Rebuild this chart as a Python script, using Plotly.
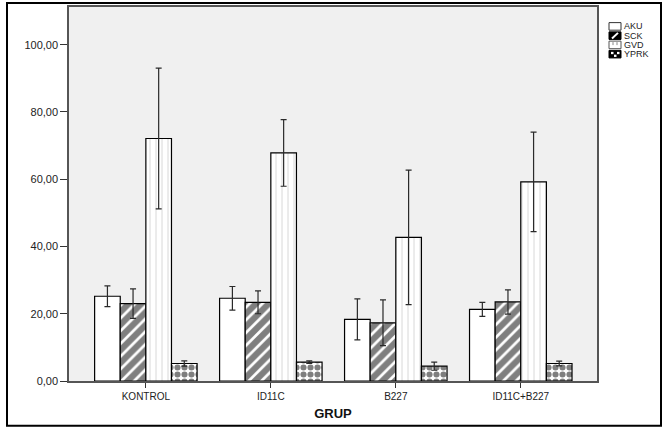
import plotly.graph_objects as go

groups = ["KONTROL", "ID11C", "B227", "ID11C+B227"]
series = ["AKU", "SCK", "GVD", "YPRK"]
means = {
    "AKU": [25.2, 24.6, 18.3, 21.3],
    "SCK": [23.0, 23.4, 17.3, 23.5],
    "GVD": [72.1, 67.8, 42.7, 59.2],
    "YPRK": [5.2, 5.6, 4.4, 5.2],
}
errs = {
    "AKU": [3.1, 3.5, 6.1, 2.1],
    "SCK": [4.4, 3.4, 6.8, 3.6],
    "GVD": [20.9, 9.9, 20.0, 14.8],
    "YPRK": [0.8, 0.4, 1.2, 0.7],
}
y_tickvals = [0, 20, 40, 60, 80, 100]
y_ticktext = ["0,00", "20,00", "40,00", "60,00", "80,00", "100,00"]

patterns = {
    "AKU": dict(shape=""),
    "SCK": dict(shape="/", fgcolor="black", bgcolor="white", size=9, solidity=0.7),
    "GVD": dict(shape="|", fgcolor="#a8a8a8", bgcolor="white", size=6, solidity=0.15),
    "YPRK": dict(shape=".", fgcolor="black", bgcolor="white", size=7, solidity=0.6),
}

fig = go.Figure()
for s in series:
    fig.add_trace(go.Bar(
        x=groups, y=means[s], name=s, showlegend=False,
        marker=dict(color="white", line=dict(color="black", width=1.2), pattern=patterns[s]),
        error_y=dict(type="data", array=errs[s], color="#2a2a2a", thickness=1.2, width=3),
    ))

L, R, T, B = 69, 67, 5, 49
W, H = 664 - L - R, 430 - T - B

fig.update_layout(
    width=664, height=430,
    margin=dict(l=L, r=R, t=T, b=B),
    paper_bgcolor="white", plot_bgcolor="#f0f0f0",
    barmode="group", bargap=0.18, bargroupgap=0,
    font=dict(family="Liberation Sans, Arial, sans-serif", size=10, color="#222222"),
    showlegend=False,
    xaxis=dict(range=[-0.615, 3.61], showline=True, linecolor="#555555", linewidth=1.5,
               mirror=True, ticks="outside", ticklen=5, tickcolor="#333333",
               title=dict(text="<b>GRUP</b>", font=dict(size=13, color="#111111"), standoff=8),
               tickfont=dict(size=10)),
    yaxis=dict(range=[0, 111.2], showline=True, linecolor="#555555", linewidth=1.5,
               mirror=True, ticks="outside", ticklen=7, tickcolor="#333333",
               tickvals=y_tickvals, ticktext=y_ticktext, showgrid=False, zeroline=False,
               tickfont=dict(size=11)),
)


def px(x):
    return (x - L) / W


def py(y):
    return (430 - B - y) / H


def rect(x0, y0, x1, y1, fill, line="black", lw=1, dash="solid"):
    fig.add_shape(type="rect", xref="paper", yref="paper",
                  x0=px(x0), x1=px(x1), y0=py(y1), y1=py(y0),
                  fillcolor=fill, line=dict(color=line, width=lw, dash=dash), layer="above")


def seg(x0, y0, x1, y1, color, lw=1, dash="solid"):
    fig.add_shape(type="line", xref="paper", yref="paper",
                  x0=px(x0), x1=px(x1), y0=py(y0), y1=py(y1),
                  line=dict(color=color, width=lw, dash=dash), layer="above")


# outer frame around the whole picture
rect(7, 1, 661, 426, "rgba(0,0,0,0)", lw=2)

# compact legend (SPSS style)
sx0, sx1 = 609, 621
for i, s in enumerate(series):
    cy = 24.5 + 9.3 * i
    y0, y1 = cy - 3.8, cy + 3.8
    if s == "AKU":
        rect(sx0, y0, sx1, y1, "white", line="#333333")
    elif s == "SCK":
        rect(sx0, y0, sx1, y1, "black", line="black")
        seg(sx0 + 3, y1 - 1, sx1 - 3, y0 + 1, "white", lw=2)
    elif s == "GVD":
        rect(sx0, y0, sx1, y1, "white", line="#555555")
        seg(sx0 + 4, y0 + 1, sx0 + 4, y1 - 1, "#888888", lw=1, dash="dot")
        seg(sx1 - 4, y0 + 1, sx1 - 4, y1 - 1, "#888888", lw=1, dash="dot")
    else:
        rect(sx0, y0, sx1, y1, "black", line="black")
        for cx in (sx0 + 2, sx0 + 8):
            rect(cx, y0 + 1.5, cx + 2.5, y0 + 3.8, "white", line="white", lw=0)
        rect(sx0 + 5, y0 + 4.3, sx0 + 7.5, y1 - 1, "white", line="white", lw=0)
    fig.add_annotation(x=px(622.5), y=py(cy), xref="paper", yref="paper",
                       text=s, showarrow=False, xanchor="left", yanchor="middle",
                       borderpad=0, font=dict(size=9, color="#222222"))

fig.write_html("out.html")
